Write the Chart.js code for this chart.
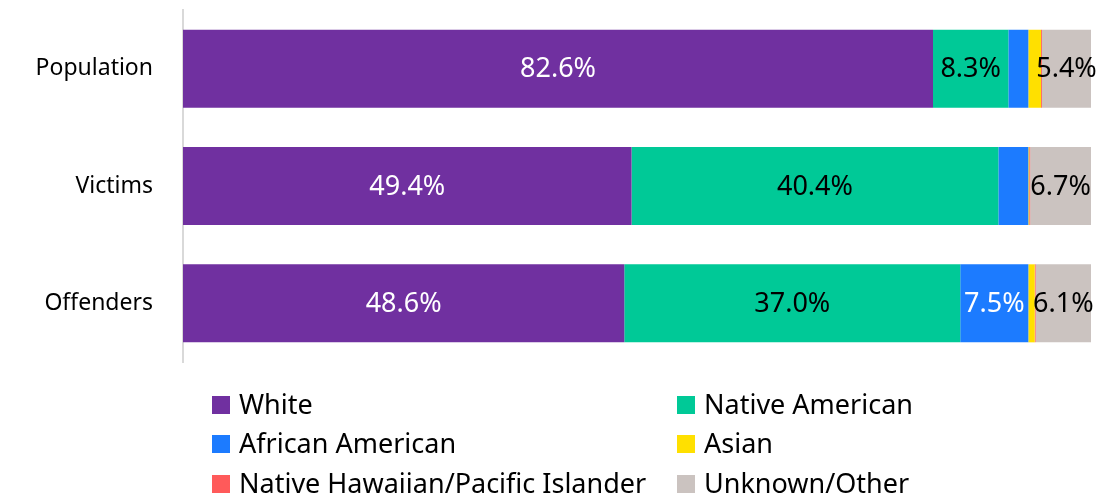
<!DOCTYPE html>
<html lang="en">
  <head>
    <meta charset="utf-8" />
    <title>Race breakdown</title>
    <style>
      * {
        margin: 0;
        padding: 0;
      }
      body {
        background: white;
      }
      .chartBox {
        width: 1107px;
        height: 500px;
      }
    </style>
  </head>
  <body>
    <div class="chartBox">
      <canvas id="myChart"></canvas>
    </div>

    <script src="https://cdn.jsdelivr.net/npm/chart.js"></script>

    <script>
      const categories = ["Population", "Victims", "Offenders"];

      // percentages per group
      const white = [82.6, 49.4, 48.6];
      const nativeAmerican = [8.3, 40.4, 37.0];
      const africanAmerican = [2.2, 3.3, 7.5];
      const asian = [1.4, 0.1, 0.7];
      const hawaiian = [0.1, 0.1, 0.1];
      const unknown = [5.4, 6.7, 6.1];

      const FONT = "'Noto Sans', sans-serif";

      // data block
      const data = {
        labels: categories,
        datasets: [
          { label: "White", data: white, backgroundColor: "#7030a0", labelColor: "#ffffff" },
          { label: "Native American", data: nativeAmerican, backgroundColor: "#00c997", labelColor: "#000000" },
          { label: "African American", data: africanAmerican, backgroundColor: "#1c7bff", labelColor: "#ffffff" },
          { label: "Asian", data: asian, backgroundColor: "#ffe000", labelColor: "#000000" },
          { label: "Native Hawaiian/Pacific Islander", data: hawaiian, backgroundColor: "#ff5a5a", labelColor: "#000000" },
          { label: "Unknown/Other", data: unknown, backgroundColor: "#cbc3c0", labelColor: "#000000" },
        ],
      };

      // value labels inside the segments (only the bigger ones)
      const segmentLabels = {
        id: "segmentLabels",
        afterDatasetsDraw(chart) {
          const { ctx } = chart;
          ctx.save();
          ctx.font = "27px " + FONT;
          ctx.textAlign = "center";
          ctx.textBaseline = "middle";
          chart.data.datasets.forEach((ds, di) => {
            const meta = chart.getDatasetMeta(di);
            meta.data.forEach((bar, i) => {
              const v = ds.data[i];
              if (v < 5) return;
              ctx.fillStyle = ds.labelColor;
              ctx.fillText(v.toFixed(1) + "%", (bar.x + bar.base) / 2, bar.y + 1);
            });
          });
          ctx.restore();
        },
      };

      // two column legend under the chart
      const gridLegend = {
        id: "gridLegend",
        afterDraw(chart) {
          const { ctx } = chart;
          const cols = [212, 677];
          const rows = [405, 444, 484];
          ctx.save();
          ctx.font = "27px " + FONT;
          ctx.textBaseline = "middle";
          ctx.textAlign = "left";
          chart.data.datasets.forEach((ds, i) => {
            const x = cols[i % 2];
            const y = rows[Math.floor(i / 2)];
            ctx.fillStyle = ds.backgroundColor;
            ctx.fillRect(x, y - 9, 18, 18);
            ctx.fillStyle = "#000000";
            ctx.fillText(ds.label, x + 27, y + 1);
          });
          ctx.restore();
        },
      };

      // config block
      const config = {
        type: "bar",
        data: data,
        options: {
          indexAxis: "y",
          responsive: true,
          maintainAspectRatio: false,
          animation: false,
          layout: {
            padding: { top: 10, right: 16, bottom: 138, left: 0 },
          },
          datasets: {
            bar: {
              categoryPercentage: 1,
              barPercentage: 0.665,
              borderWidth: 0,
            },
          },
          scales: {
            x: {
              stacked: true,
              min: 0,
              max: 100,
              display: false,
            },
            y: {
              stacked: true,
              grid: { display: false, drawTicks: false },
              border: { display: true, color: "#d9d9d9", width: 2 },
              ticks: {
                color: "#000000",
                padding: 30,
                font: { family: FONT, size: 23 },
              },
              afterFit(scale) {
                scale.width = 183;
                // tick padding would otherwise push the plot down
                scale.paddingTop = 0;
                scale.paddingBottom = 0;
              },
            },
          },
          plugins: {
            legend: { display: false },
            tooltip: { enabled: false },
          },
        },
        plugins: [segmentLabels, gridLegend],
      };

      // init render block
      const myChart = new Chart(document.getElementById("myChart"), config);
    </script>
  </body>
</html>
